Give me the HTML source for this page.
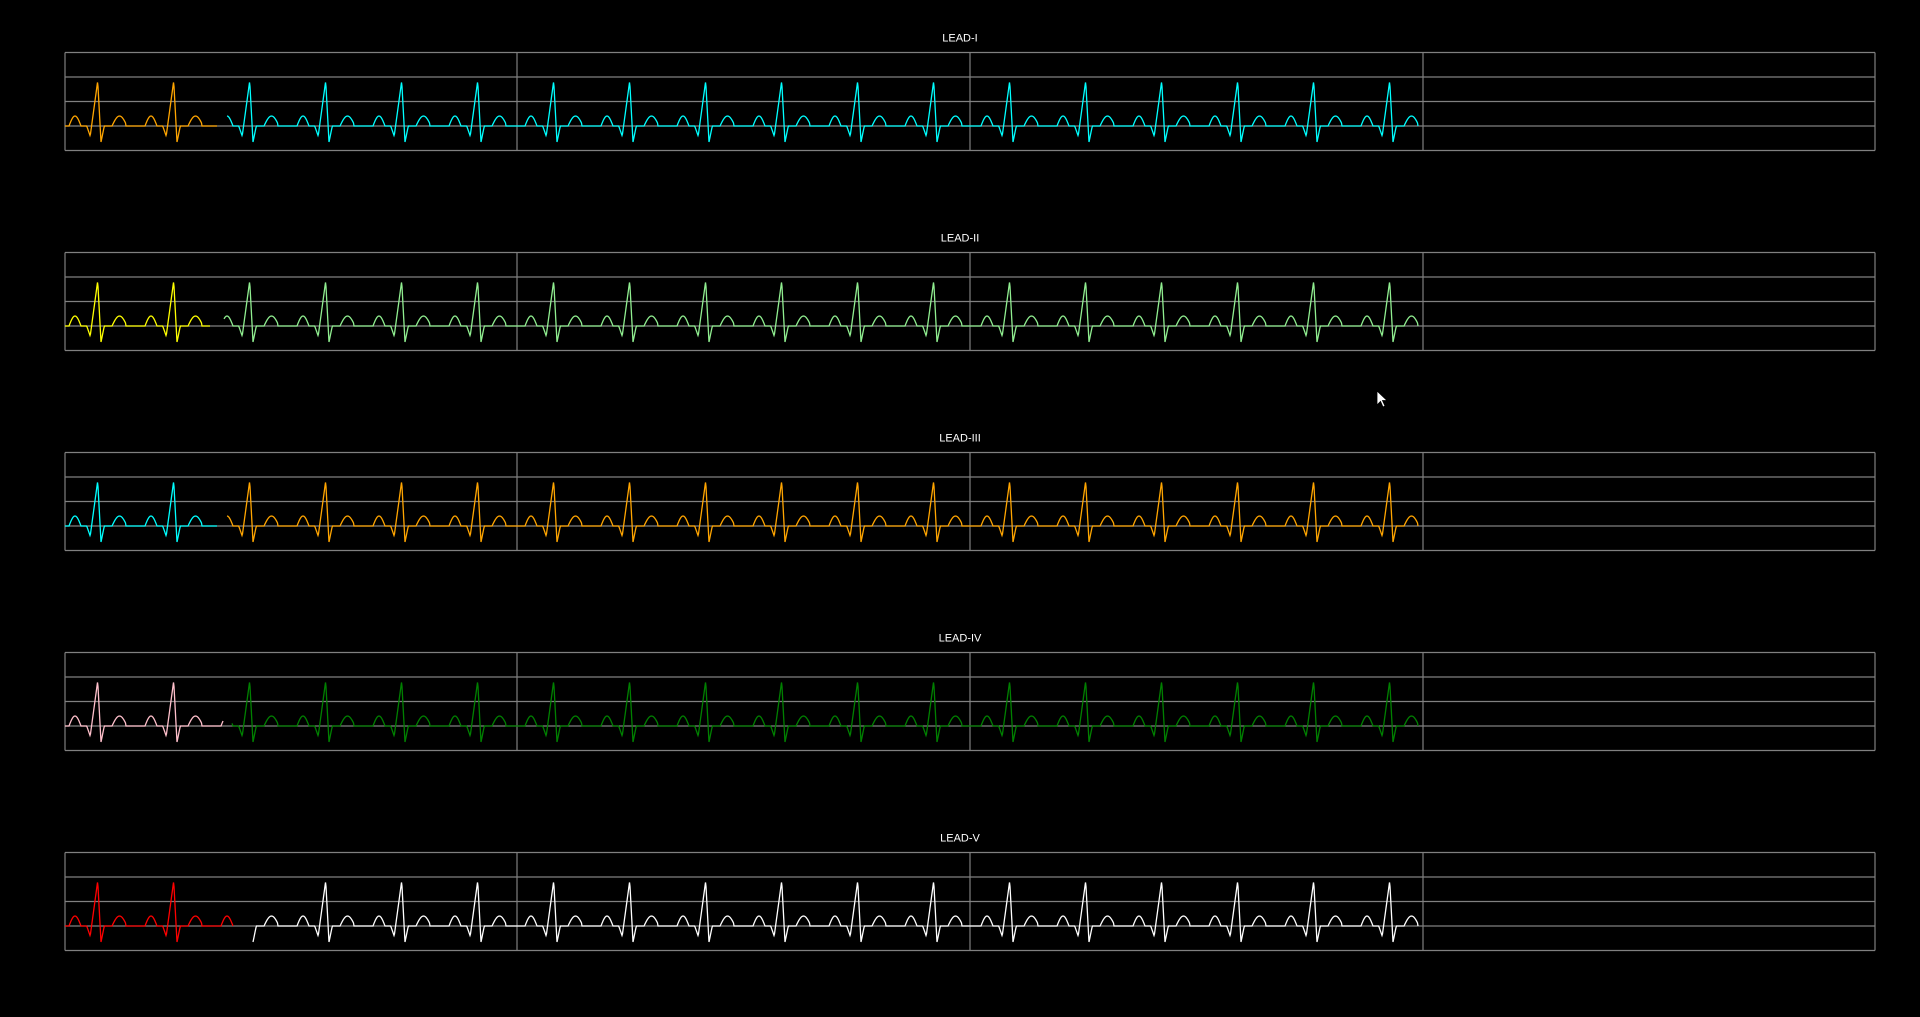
<!DOCTYPE html>
<html><head><meta charset="utf-8">
<style>
html,body{margin:0;padding:0;background:#000;width:1920px;height:1017px;overflow:hidden}
svg{display:block}
text{font-family:"Liberation Sans",sans-serif;font-size:11px;fill:#fff}
</style></head>
<body>
<svg id="chart" width="1920" height="1017">
  <g id="cursor">
    <path d="M1377,391 L1377,405 L1380.5,401.5 L1383,407 L1385,406 L1382.5,400.5 L1387,400.5 Z" fill="#fff" stroke="#000" stroke-width="0.8"/>
  </g>
</svg>
<script>
const leadNames = ["LEAD-I","LEAD-II","LEAD-III","LEAD-IV","LEAD-V"];
const colorsFirst = ["#FFA500","#FFFF00","#00FFFF","#FFC0CB","#FF0000"];
const colorsSecond = ["#00FFFF","#90EE90","#FFA500","#008000","#FFFFFF"];
const firstEnd = [217,210,217,223,233];
const secondStart = [227,224,227,232,253];
const traceEnd = [1418,1418,1418,1418,1418];
// beat template (offsets in px from R peak, amplitudes in px)
const pWave = [-28.7,-16.7,10];
const qWave = [-11,-7.5,-4,10];
const rWave = [0,45];
const sWave = [3.3,16,6.6];
const tWave = [14.3,29.3,10];
const firstR = 97.7, period = 76.0;

const svg = document.getElementById('chart');
const NS = "http://www.w3.org/2000/svg";
const left = 65, right = 1875, panelH = 98;
const tops = [52.5,252.5,452.5,652.5,852.5];
const vlines = [517,970,1423];

function beat(dx){
  if(dx>pWave[0]&&dx<pWave[1]) return pWave[2]*Math.sin(Math.PI*(dx-pWave[0])/(pWave[1]-pWave[0]));
  if(dx>tWave[0]&&dx<tWave[1]) return tWave[2]*Math.sin(Math.PI*(dx-tWave[0])/(tWave[1]-tWave[0]));
  if(dx>=qWave[0]&&dx<=qWave[1]) return -qWave[3]*(dx-qWave[0])/(qWave[1]-qWave[0]);
  if(dx>qWave[1]&&dx<=rWave[0]) { const t=(dx-qWave[1])/(rWave[0]-qWave[1]); return -qWave[3]+t*(rWave[1]+qWave[3]); }
  if(dx>rWave[0]&&dx<=sWave[0]) { const t=dx/sWave[0]; return rWave[1]-t*(rWave[1]+sWave[1]); }
  if(dx>sWave[0]&&dx<sWave[2]) { const t=(dx-sWave[0])/(sWave[2]-sWave[0]); return -sWave[1]*(1-t); }
  return 0;
}
function sig(x){
  let k=Math.round((x-firstR)/period);
  let dx=x-(firstR+k*period);
  if(dx>period/2-10) dx-=period;
  return beat(dx);
}
function trace(x0,x1,base,color,name){
  const pts=[];
  for(let x=x0;x<=x1;x+=0.5) pts.push(x.toFixed(1)+","+(base-sig(x)).toFixed(1));
  const p=document.createElementNS(NS,'polyline');
  p.setAttribute('points',pts.join(' '));
  p.setAttribute('fill','none');p.setAttribute('stroke',color);p.setAttribute('stroke-width','1.3');
  
  
  svg.insertBefore(p, document.getElementById('cursor'));
}
leadNames.forEach((nm,i)=>{
  const top=tops[i];
  const g=document.createElementNS(NS,'g');
  
  
  const t=document.createElementNS(NS,'text');
  t.setAttribute('x',960);t.setAttribute('y',top-11);t.setAttribute('text-anchor','middle');
  t.textContent=nm;
  
  
  g.appendChild(t);
  let s='';
  for(let r=0;r<=4;r++){const y=top+r*panelH/4;s+=`<line x1="${left}" y1="${y}" x2="${right}" y2="${y}" stroke="#808080" stroke-width="1.2"/>`;}
  s+=`<line x1="${left}" y1="${top}" x2="${left}" y2="${top+panelH}" stroke="#808080" stroke-width="1.2"/>`;
  s+=`<line x1="${right}" y1="${top}" x2="${right}" y2="${top+panelH}" stroke="#808080" stroke-width="1.2"/>`;
  vlines.forEach(v=>{s+=`<line x1="${v}" y1="${top}" x2="${v}" y2="${top+panelH}" stroke="#808080" stroke-width="1.2"/>`;});
  const gg=document.createElementNS(NS,'g');gg.innerHTML=s;
  
  
  g.appendChild(gg);
  svg.insertBefore(g, document.getElementById('cursor'));
  const base=top+panelH*3/4;
  trace(left,firstEnd[i],base,colorsFirst[i],'trace-first');
  trace(secondStart[i],traceEnd[i],base,colorsSecond[i],'trace-second');
});
</script>
</body></html>
